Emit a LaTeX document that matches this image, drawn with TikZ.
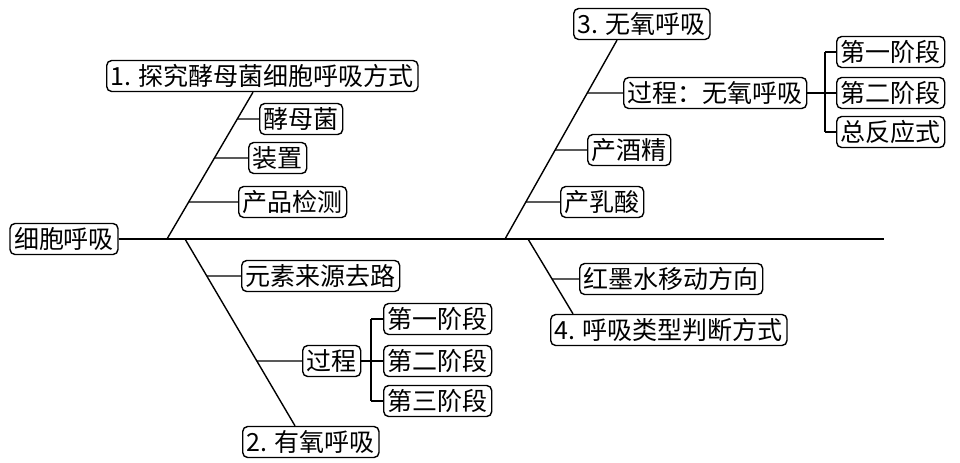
\documentclass[tikz,border=0pt]{standalone}
\usepackage{fontspec}
\newfontfamily\cjk{Noto Sans CJK SC}

\begin{document}
\begin{tikzpicture}[
    x=0.5pt, y=-0.5pt,
    line width=0.7pt,
    box/.style={draw, rounded corners=2.5pt, font=\fontsize{12.5}{14}\cjk,
        inner xsep=2pt, inner ysep=1pt, minimum height=15.5pt, anchor=west},
]
    \useasboundingbox (0,0) rectangle (960,462);

    \node[box, anchor=center] (root) at (64, 239) {细胞呼吸};
    \coordinate (spend) at (884, 239);

    % topic boxes
    \node[box] (t1) at (106, 76) {1. 探究酵母菌细胞呼吸方式};
    \node[box] (t2) at (242, 442) {2. 有氧呼吸};
    \node[box] (t3) at (573, 24) {3. 无氧呼吸};
    \node[box] (t4) at (550, 330) {4. 呼吸类型判断方式};

    % branch 1
    \node[box] (jmj) at (259, 119) {酵母菌};
    \node[box] (zz) at (248, 158) {装置};
    \node[box] (cpjc) at (238, 202) {产品检测};

    % branch 2
    \node[box] (ysly) at (241, 276) {元素来源去路};
    \node[box] (gc) at (302, 361) {过程};
    \node[box] (a1) at (383, 319) {第一阶段};
    \node[box] (a2) at (383, 361) {第二阶段};
    \node[box] (a3) at (383, 401) {第三阶段};

    % branch 3
    \node[box] (wy) at (623, 93) {过程：无氧呼吸};
    \node[box] (b1) at (836, 52) {第一阶段};
    \node[box] (b2) at (836, 93) {第二阶段};
    \node[box] (b3) at (836, 132) {总反应式};
    \node[box] (cjj) at (587, 150) {产酒精};
    \node[box] (crs) at (560, 202) {产乳酸};

    % branch 4
    \node[box] (hms) at (579, 279) {红墨水移动方向};

    % spine and diagonals
    \coordinate (s1) at (167, 239);
    \coordinate (s2) at (185, 239);
    \coordinate (s3) at (505, 239);
    \coordinate (s4) at (528, 239);
    \coordinate (e1) at (253,0 |- t1.south);
    \coordinate (e2) at (295,0 |- t2.north);
    \coordinate (e3) at (617,0 |- t3.south);
    \coordinate (e4) at (573,0 |- t4.north);

    \draw (root.east) -- (spend);
    \foreach \i in {1,2,3,4} {
        \draw (s\i) -- (e\i);
    }

    \foreach \n in {jmj, zz, cpjc} {
        \draw (intersection of s1--e1 and \n.west--\n.east) -- (\n.west);
    }
    \foreach \n in {ysly, gc} {
        \draw (intersection of s2--e2 and \n.west--\n.east) -- (\n.west);
    }
    \foreach \n in {wy, cjj, crs} {
        \draw (intersection of s3--e3 and \n.west--\n.east) -- (\n.west);
    }
    \draw (intersection of s4--e4 and hms.west--hms.east) -- (hms.west);

    % brackets
    \coordinate (k2) at (371, 361);
    \draw (gc.east) -- (k2);
    \draw (k2 |- a1) -- (k2 |- a3);
    \foreach \n in {a1, a2, a3} {
        \draw (k2 |- \n) -- (\n.west);
    }

    \coordinate (k3) at (825, 93);
    \draw (wy.east) -- (k3);
    \draw (k3 |- b1) -- (k3 |- b3);
    \foreach \n in {b1, b2, b3} {
        \draw (k3 |- \n) -- (\n.west);
    }

\end{tikzpicture}
\end{document}
